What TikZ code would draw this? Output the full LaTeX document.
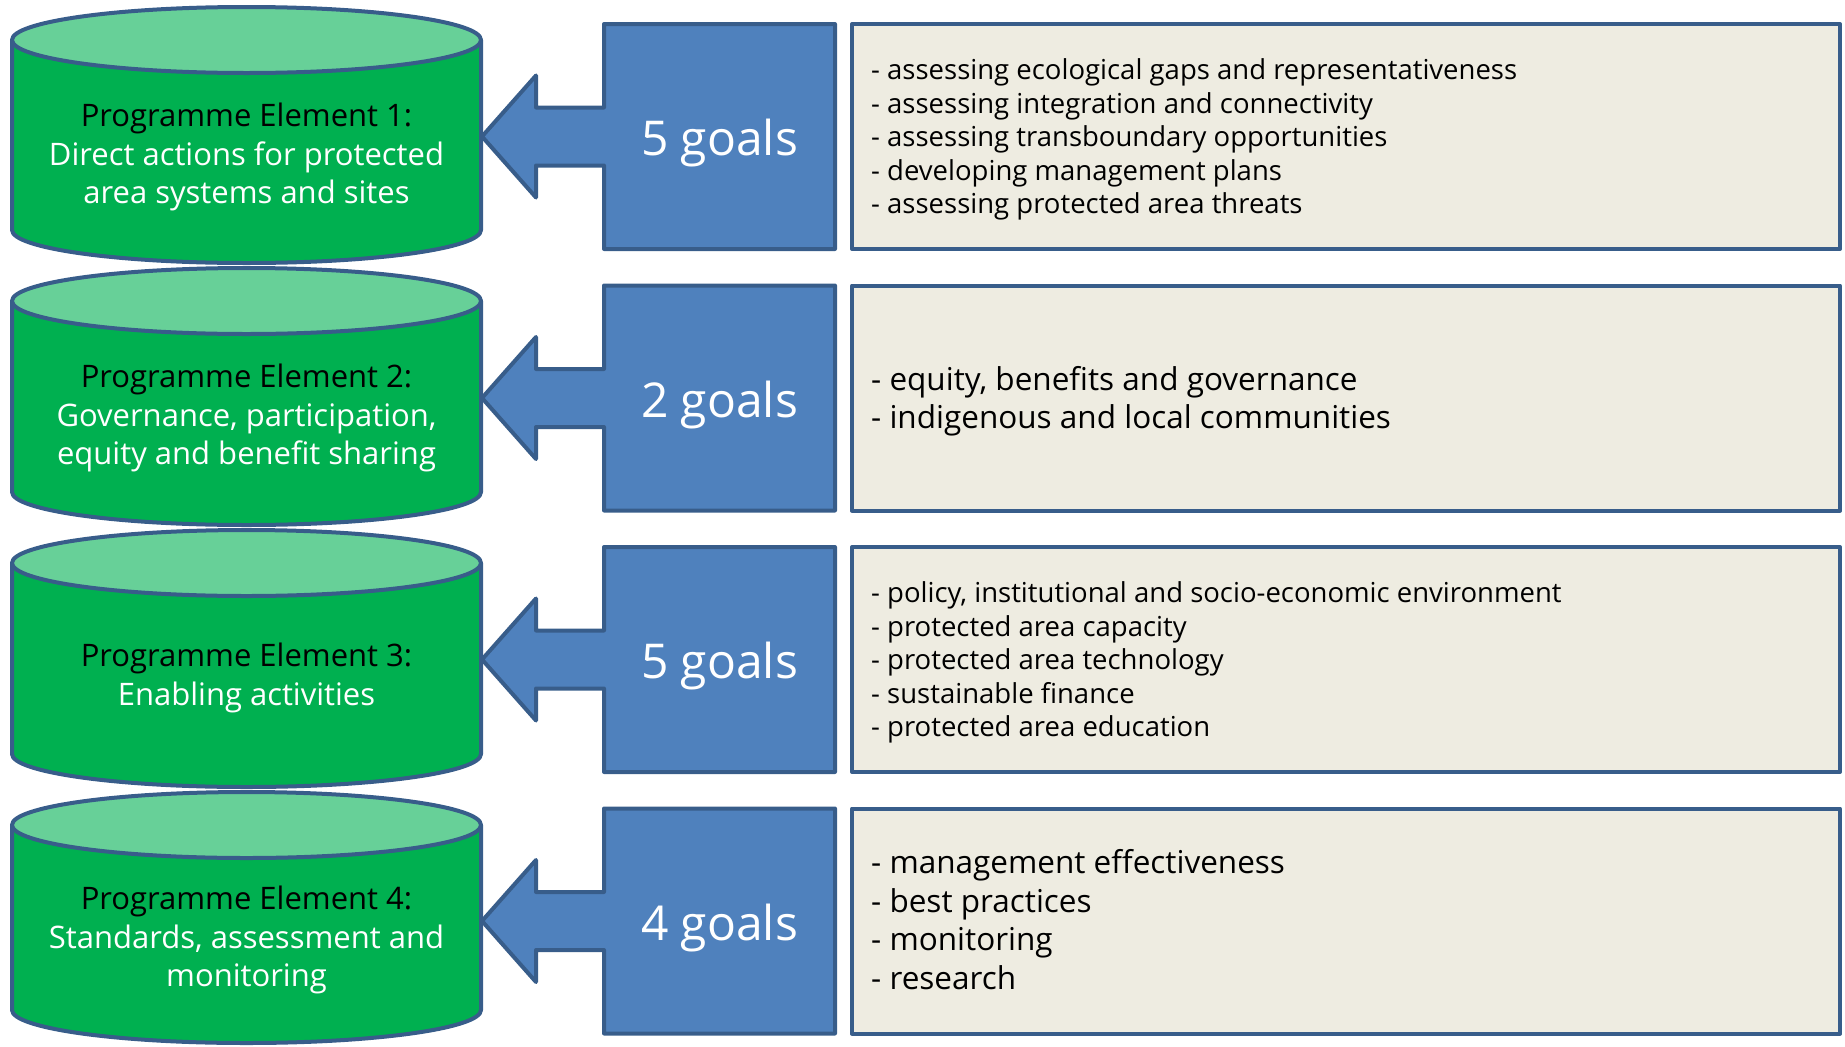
\documentclass[tikz,border=0pt]{standalone}
\usepackage{fontspec}
\setmainfont{Open Sans}
\definecolor{pegreen}{HTML}{00B050}
\definecolor{petop}{HTML}{67D098}
\definecolor{edgeblue}{HTML}{385D8A}
\definecolor{goalblue}{HTML}{4F81BD}
\definecolor{cream}{HTML}{EEECE1}
\tikzset{
  outline/.style={draw=edgeblue, line width=4pt, line join=round},
  cyltext/.style={align=center, font=\fontsize{31}{38.5}\selectfont, inner sep=0pt},
  goaltext/.style={text=white, font=\fontsize{48}{52}\selectfont, inner sep=0pt},
  smalllist/.style={anchor=west, align=left, font=\fontsize{27.5}{33.5}\selectfont, inner sep=0pt},
  biglist/.style={anchor=west, align=left, font=\fontsize{31.5}{38.5}\selectfont, inner sep=0pt}
}
\newcommand{\mycyl}[3]{% #1 top y, #2 height, #3 name
  \fill[pegreen] (12,#1+33) -- (12,#1+#2-33) arc[start angle=180, end angle=0, x radius=234.5, y radius=33] -- (481,#1+33) -- cycle;
  \draw[outline] (12,#1+33) -- (12,#1+#2-33) arc[start angle=180, end angle=0, x radius=234.5, y radius=33] -- (481,#1+33);
  \draw[outline, fill=petop] (246.5,#1+33) ellipse[x radius=234.5, y radius=33];
  \coordinate (#3) at (246.5,#1+150);
}
\newcommand{\mygoal}[2]{% #1 top y of box, #2 name
  \draw[outline, fill=goalblue] (604,#1+2) -- (835,#1+2) -- (835,#1+227) -- (604,#1+227) -- (604,#1+114.5+29) -- (536,#1+114.5+29) -- (536,#1+114.5+61) -- (482,#1+114.5) -- (536,#1+114.5-61) -- (536,#1+114.5-29) -- (604,#1+114.5-29) -- cycle;
  \draw[outline, fill=cream] (852,#1+2) rectangle (1840,#1+227);
  \coordinate (#2g) at (719.5,#1+121.5);
  \coordinate (#2l) at (871,#1+117.5);
}
\begin{document}
\begin{tikzpicture}[x=1pt, y=-1pt]
\useasboundingbox (0,0) rectangle (1845,1047);
\mycyl{7}{256}{c1}
\mycyl{268}{257}{c2}
\mycyl{530}{257}{c3}
\mycyl{792}{251}{c4}
\mygoal{22}{r1}
\mygoal{283.5}{r2}
\mygoal{545}{r3}
\mygoal{806.5}{r4}

\node[cyltext] (pe1) at (c1) {Programme Element 1:\\\textcolor{white}{Direct actions for protected}\\\textcolor{white}{area systems and sites}};
\node[cyltext] (pe2) at (c2) {Programme Element 2:\\\textcolor{white}{Governance, participation,}\\\textcolor{white}{equity and benefit sharing}};
\node[cyltext] (pe3) at ([yshift=2pt]c3) {Programme Element 3:\\\textcolor{white}{Enabling activities}};
\node[cyltext] (pe4) at ([yshift=2pt]c4) {Programme Element 4:\\\textcolor{white}{Standards, assessment and}\\\textcolor{white}{monitoring}};

\node[goaltext] (g1) at (r1g) {5 goals};
\node[goaltext] (g2) at (r2g) {2 goals};
\node[goaltext] (g3) at (r3g) {5 goals};
\node[goaltext] (g4) at (r4g) {4 goals};

\node[smalllist] (l1) at (r1l) {- assessing ecological gaps and representativeness\\- assessing integration and connectivity\\- assessing transboundary opportunities\\- developing management plans\\- assessing protected area threats};
\node[biglist] (l2) at (r2l) {- equity, benefits and governance\\- indigenous and local communities};
\node[smalllist] (l3) at (r3l) {- policy, institutional and socio-economic environment\\- protected area capacity\\- protected area technology\\- sustainable finance\\- protected area education};
\node[biglist] (l4) at ([yshift=4.5pt]r4l) {- management effectiveness\\- best practices\\- monitoring\\- research};
\end{tikzpicture}
\end{document}
